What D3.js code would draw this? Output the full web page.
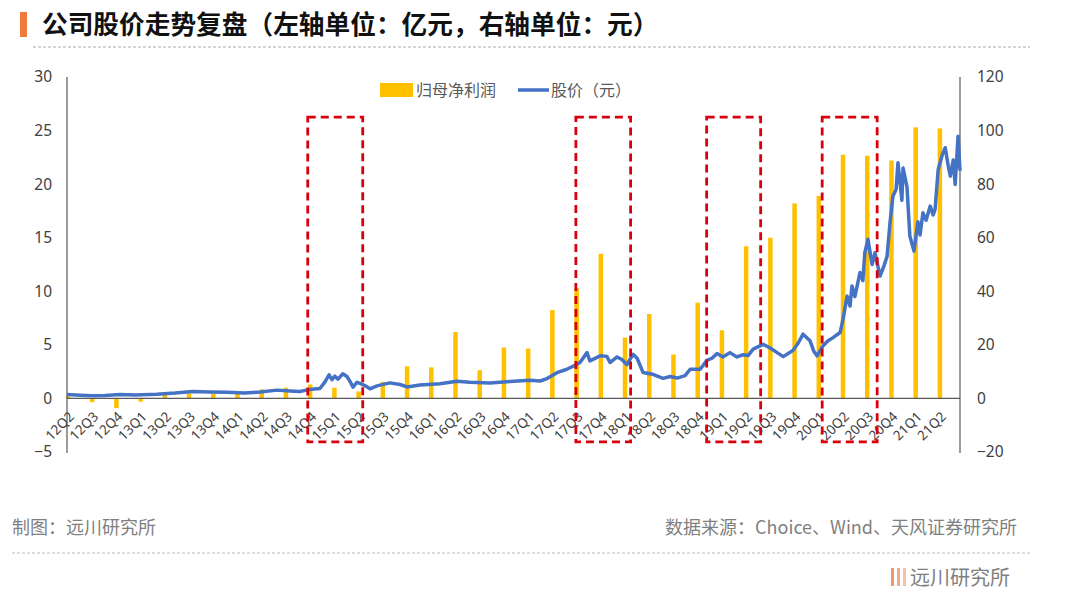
<!DOCTYPE html>
<html>
<head>
<meta charset="utf-8">
<script src="https://cdn.jsdelivr.net/npm/d3@7"></script>
<style>
  body { margin: 0; background: #fff; }
  svg { display: block; font-family: "Noto Sans", "Noto Sans CJK SC", sans-serif; }
</style>
</head>
<body>
<svg id="chart" width="1080" height="599"></svg>
<script>
// quarters on the category axis
const quarters = ["12Q2", "12Q3", "12Q4",
    "13Q1", "13Q2", "13Q3", "13Q4", "14Q1", "14Q2", "14Q3", "14Q4",
    "15Q1", "15Q2", "15Q3", "15Q4", "16Q1", "16Q2", "16Q3", "16Q4",
    "17Q1", "17Q2", "17Q3", "17Q4", "18Q1", "18Q2", "18Q3", "18Q4",
    "19Q1", "19Q2", "19Q3", "19Q4", "20Q1", "20Q2", "20Q3", "20Q4",
    "21Q1", "21Q2"];

// 归母净利润 (亿元), one per quarter
const profit = [0.2, -0.35, -0.9,
    -0.3, 0.6, 0.45, 0.45, 0.6, 0.85, 1.0, 1.3,
    1.0, 0.65, 1.55, 3.0, 2.9, 6.2, 2.64, 4.75,
    4.66, 8.25, 10.3, 13.5, 5.68, 7.88, 4.1, 8.94,
    6.36, 14.2, 15.0, 18.2, 18.9, 22.75, 22.65, 22.2,
    25.3, 25.2];

// 股价 (元): [position in quarters from 12Q2, price]
const price = [
    [-0.04, 1.5], [0.5, 1.2], [1.03, 1.0], [1.53, 1.1], [2.15, 1.5], [2.77, 1.3],
    [3.67, 1.6], [4.42, 2.0], [5.16, 2.6], [5.86, 2.4], [6.56, 2.3], [7.31, 2.0],
    [7.93, 2.4], [8.63, 3.1], [9.17, 2.8], [9.58, 2.6], [9.79, 3.0], [10.07, 3.4],
    [10.4, 3.7], [10.6, 6.0], [10.78, 8.8], [10.9, 7.0], [11.02, 8.3], [11.15, 7.2],
    [11.35, 9.2], [11.52, 8.2], [11.68, 5.8], [11.77, 4.2], [11.93, 6.0], [12.06, 5.6],
    [12.26, 4.8], [12.47, 3.6], [12.76, 4.7], [13.29, 5.8], [13.71, 5.2], [14.0, 4.3],
    [14.53, 5.0], [15.36, 5.5], [16.06, 6.4], [16.6, 6.0], [17.42, 5.8], [18.25, 6.3],
    [19.07, 6.8], [19.49, 6.5], [19.78, 7.4], [20.19, 9.6], [20.6, 10.9], [20.85, 12.0],
    [21.14, 13.4], [21.43, 17.1], [21.55, 14.0], [21.97, 15.9], [22.25, 15.7], [22.38, 13.4],
    [22.67, 15.5], [22.87, 14.5], [23.08, 12.6], [23.33, 16.5], [23.5, 15.0], [23.74, 9.7],
    [24.15, 9.0], [24.57, 7.5], [24.86, 8.2], [25.15, 7.6], [25.48, 8.5], [25.69, 10.9],
    [26.1, 10.9], [26.38, 14.2], [26.59, 15.0], [26.8, 16.8], [27.04, 15.5], [27.33, 17.1],
    [27.62, 15.5], [27.87, 16.3], [28.08, 16.0], [28.29, 18.4], [28.7, 20.2], [28.99, 18.8],
    [29.28, 17.1], [29.53, 15.6], [29.93, 17.9], [30.14, 20.5], [30.35, 24.0], [30.64, 21.5],
    [30.8, 17.5], [30.93, 15.9], [31.17, 19.6], [31.38, 21.5], [31.59, 22.7], [31.88, 24.6],
    [32.0, 29.6], [32.17, 38.2], [32.29, 34.5], [32.37, 42.0], [32.49, 38.0], [32.7, 47.0],
    [32.82, 44.0], [32.9, 54.4], [33.03, 59.4], [33.2, 50.0], [33.32, 54.4], [33.53, 45.7],
    [33.69, 49.5], [33.82, 53.1], [33.94, 65.6], [34.06, 75.5], [34.19, 78.0], [34.27, 88.0],
    [34.43, 74.0], [34.48, 86.0], [34.64, 79.0], [34.76, 60.6], [34.93, 55.0], [35.09, 66.0],
    [35.18, 61.0], [35.3, 69.3], [35.43, 66.5], [35.6, 71.8], [35.72, 68.5], [35.8, 70.6],
    [35.93, 85.5], [36.1, 91.0], [36.22, 93.6], [36.34, 87.0], [36.43, 83.0], [36.55, 89.0],
    [36.63, 79.9], [36.75, 97.9], [36.83, 85.0]
];

// highlighted periods: [from, to] in quarter positions
const boxes = [[9.9, 12.17], [20.97, 23.23], [26.37, 28.6], [31.14, 33.41]];
const boxTop = 26.25, boxBottom = -4.05;   // left axis units

const leftTicks = [-5, 0, 5, 10, 15, 20, 25, 30];
const rightTicks = [-20, 0, 20, 40, 60, 80, 100, 120];

const svg = d3.select("#chart");

const x = d3.scaleLinear().domain([-0.04, 36.83]).range([67, 960]);
const yL = d3.scaleLinear().domain([-5, 30]).range([452, 77]);
const yR = d3.scaleLinear().domain([-20, 120]).range([452, 77]);

// --- title ---
svg.append("rect").attr("x", 20).attr("y", 12).attr("width", 7).attr("height", 25).attr("fill", "#ef7a3c");
svg.append("text").attr("x", 42).attr("y", 34)
    .attr("font-family", "'Noto Sans CJK SC', sans-serif")
    .attr("font-size", 25.7).attr("font-weight", "bold").attr("fill", "#111")
    .text("公司股价走势复盘（左轴单位：亿元，右轴单位：元）");
svg.append("line").attr("x1", 33).attr("x2", 1030).attr("y1", 47).attr("y2", 47)
    .attr("stroke", "#aaa").attr("stroke-width", 1).attr("stroke-dasharray", "3,2");

// --- bars ---
const barW = 4.5;
svg.append("g").selectAll("rect").data(profit).join("rect")
    .attr("x", (d, i) => x(i) - barW / 2)
    .attr("y", d => yL(Math.max(0, d)))
    .attr("width", barW)
    .attr("height", d => Math.abs(yL(d) - yL(0)))
    .attr("fill", "#ffc000");

// --- axes ---
const axisCol = "#595959";
svg.append("line").attr("x1", x(-0.04)).attr("x2", x(36.83)).attr("y1", yL(0)).attr("y2", yL(0))
    .attr("stroke", axisCol).attr("stroke-width", 1.2);
svg.append("line").attr("x1", 67).attr("x2", 67).attr("y1", 77).attr("y2", 453)
    .attr("stroke", axisCol).attr("stroke-width", 1.2);
svg.append("line").attr("x1", 960).attr("x2", 960).attr("y1", 77).attr("y2", 453)
    .attr("stroke", axisCol).attr("stroke-width", 1.2);

const leftAxis = d3.axisLeft(yL).tickValues(leftTicks).tickSize(0).tickPadding(15);
svg.append("g").attr("transform", "translate(67,0)").call(leftAxis)
    .call(g => g.select(".domain").remove())
    .call(g => g.selectAll("text").attr("font-size", 15.5).attr("fill", "#404040")
        .attr("font-family", "'Noto Sans', sans-serif"));

const rightAxis = d3.axisRight(yR).tickValues(rightTicks).tickSize(0).tickPadding(17);
svg.append("g").attr("transform", "translate(960,0)").call(rightAxis)
    .call(g => g.select(".domain").remove())
    .call(g => g.selectAll("text").attr("font-size", 15.5).attr("fill", "#404040")
        .attr("font-family", "'Noto Sans', sans-serif"));

// rotated quarter labels
svg.append("g").selectAll("text").data(quarters).join("text")
    .attr("transform", (d, i) => `translate(${x(i) + 7},${yL(0) + 19}) rotate(-45)`)
    .attr("text-anchor", "end")
    .attr("font-size", 13.5)
    .attr("fill", "#404040")
    .text(d => d);

// --- price line ---
const line = d3.line().x(d => x(d[0])).y(d => yR(d[1]));
svg.append("path").datum(price)
    .attr("d", line)
    .attr("fill", "none")
    .attr("stroke", "#4472c4")
    .attr("stroke-width", 3.5)
    .attr("stroke-linejoin", "round");

// --- highlight boxes ---
svg.append("g").selectAll("rect").data(boxes).join("rect")
    .attr("x", d => x(d[0]))
    .attr("y", yL(boxTop))
    .attr("width", d => x(d[1]) - x(d[0]))
    .attr("height", yL(boxBottom) - yL(boxTop))
    .attr("fill", "none")
    .attr("stroke", "#d9000d")
    .attr("stroke-width", 2.8)
    .attr("stroke-dasharray", "8,5");

// --- legend ---
const legend = svg.append("g").attr("font-size", 16).attr("fill", "#595959")
    .attr("font-family", "'Noto Sans CJK SC', sans-serif");
legend.append("rect").attr("x", 380).attr("y", 83).attr("width", 33).attr("height", 14).attr("fill", "#ffc000");
legend.append("text").attr("x", 416).attr("y", 96).text("归母净利润");
legend.append("line").attr("x1", 518).attr("x2", 549).attr("y1", 90).attr("y2", 90)
    .attr("stroke", "#4472c4").attr("stroke-width", 3.5);
legend.append("text").attr("x", 551).attr("y", 96).text("股价（元）");

// --- footer ---
const foot = svg.append("g").attr("font-size", 18).attr("fill", "#7f7f7f")
    .attr("font-family", "'Noto Sans CJK SC', sans-serif");
foot.append("text").attr("x", 12).attr("y", 534).text("制图：远川研究所");
foot.append("text").attr("x", 1017).attr("y", 534).attr("text-anchor", "end")
    .text("数据来源：Choice、Wind、天风证券研究所");
svg.append("line").attr("x1", 12).attr("x2", 1030).attr("y1", 553).attr("y2", 553)
    .attr("stroke", "#bbb").attr("stroke-width", 1).attr("stroke-dasharray", "3,2");
[["#ee9a70", 891], ["#f2ad8a", 897], ["#f5c2a8", 903]].forEach(([c, bx]) => {
    svg.append("rect").attr("x", bx).attr("y", 568).attr("width", 3).attr("height", 18).attr("fill", c);
});
foot.append("text").attr("x", 910).attr("y", 585).attr("font-size", 20).text("远川研究所");
</script>
</body>
</html>
